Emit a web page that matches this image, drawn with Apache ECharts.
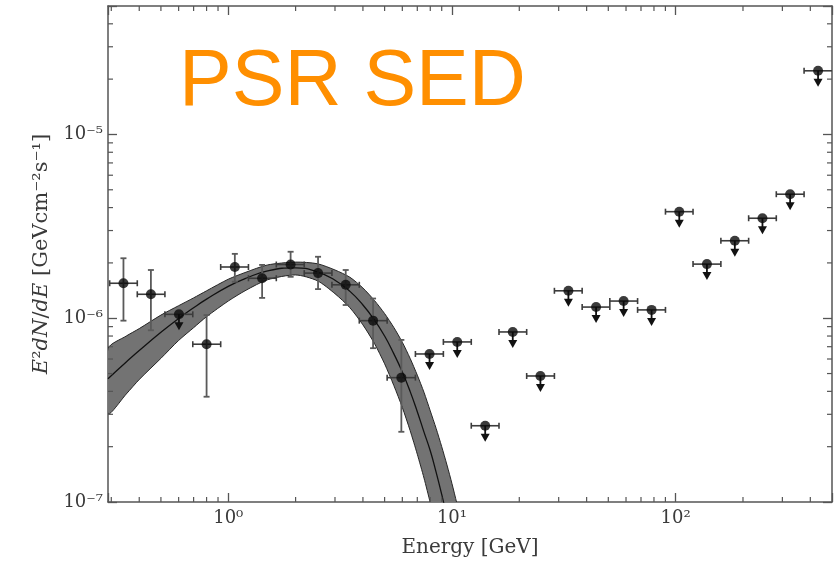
<!DOCTYPE html>
<html>
<head>
<meta charset="utf-8">
<script src="https://cdn.jsdelivr.net/npm/echarts@6/dist/echarts.min.js"></script>
<style>
html, body { margin: 0; padding: 0; background: #fff; }
#main { width: 839px; height: 568px; }
</style>
</head>
<body>
<div id="main"></div>
<script>
// detected flux points: energy (GeV), bin edges, E^2 dN/dE and its error range
var detE = [0.34, 0.451, 0.80, 1.07, 1.417, 1.90, 2.52, 3.35, 4.44, 5.94];
var detELo = [0.295, 0.392, 0.694, 0.925, 1.231, 1.640, 2.186, 2.907, 3.853, 5.132];
var detEHi = [0.392, 0.521, 0.925, 1.231, 1.640, 2.186, 2.907, 3.853, 5.132, 6.865];
var detF = [1.55e-6, 1.35e-6, 7.22e-7, 1.90e-6, 1.65e-6, 1.96e-6, 1.76e-6, 1.52e-6, 9.7e-7, 4.75e-7];
var detFLo = [9.7e-7, 8.6e-7, 3.74e-7, 1.58e-6, 1.29e-6, 1.68e-6, 1.44e-6, 1.18e-6, 6.87e-7, 2.41e-7];
var detFHi = [2.12e-6, 1.83e-6, 1.04e-6, 2.24e-6, 1.95e-6, 2.30e-6, 2.16e-6, 1.83e-6, 1.28e-6, 7.62e-7];

// upper limits
var ulE = [0.602, 7.94, 10.56, 14.08, 18.7, 24.86, 33.16, 44.09, 58.54, 78.06, 103.8, 138.0, 183.9, 244.4, 324.9, 433.2];
var ulELo = [0.521, 6.865, 9.155, 12.20, 16.23, 21.58, 28.71, 38.20, 50.79, 67.59, 90.05, 119.6, 159.3, 212.0, 281.8, 375.1];
var ulEHi = [0.694, 9.155, 12.20, 16.23, 21.58, 28.71, 38.20, 50.79, 67.59, 90.05, 119.6, 159.3, 212.0, 281.8, 375.1, 520];
var ulF = [1.05e-6, 6.39e-7, 7.43e-7, 2.60e-7, 8.42e-7, 4.85e-7, 1.41e-6, 1.15e-6, 1.24e-6, 1.11e-6, 3.80e-6, 1.97e-6, 2.64e-6, 3.50e-6, 4.73e-6, 2.22e-5];

// model band
var bandE = [0.29, 0.35, 0.4, 0.5, 0.6, 0.7, 0.8, 1.0, 1.2, 1.5, 2.0, 2.5, 3.0, 3.5, 4.0, 4.5, 5.0, 5.5, 6.0, 6.5, 7.0, 7.5, 8.0, 8.5, 9.0, 9.5, 10, 10.5, 11];
var bandMid = [4.69e-7, 5.78e-7, 6.67e-7, 8.38e-7, 9.97e-7, 1.14e-6, 1.27e-6, 1.49e-6, 1.65e-6, 1.81e-6, 1.88e-6, 1.79e-6, 1.61e-6, 1.40e-6, 1.18e-6, 9.8e-7, 8.0e-7, 6.4e-7, 5.1e-7, 4.0e-7, 3.1e-7, 2.4e-7, 1.9e-7, 1.45e-7, 1.1e-7, 8.3e-8, 6.3e-8, 4.7e-8, 3.5e-8];
var bandHi = [6.83e-7, 8.0e-7, 8.78e-7, 1.04e-6, 1.17e-6, 1.29e-6, 1.41e-6, 1.63e-6, 1.78e-6, 1.95e-6, 2.02e-6, 1.98e-6, 1.83e-6, 1.67e-6, 1.46e-6, 1.25e-6, 1.06e-6, 8.9e-7, 7.4e-7, 6.05e-7, 4.9e-7, 3.95e-7, 3.13e-7, 2.51e-7, 2.0e-7, 1.59e-7, 1.26e-7, 9.9e-8, 7.7e-8];
var bandLo = [3.02e-7, 3.87e-7, 4.64e-7, 6.05e-7, 7.57e-7, 8.88e-7, 1.02e-6, 1.24e-6, 1.42e-6, 1.62e-6, 1.72e-6, 1.60e-6, 1.36e-6, 1.14e-6, 9.2e-7, 7.3e-7, 5.65e-7, 4.3e-7, 3.27e-7, 2.45e-7, 1.82e-7, 1.35e-7, 9.9e-8, 7.4e-8, 5.4e-8, 4.0e-8, 3.0e-8, 2.2e-8, 1.6e-8];

var xMin = 0.29, xMax = 500;
var yMin = 1e-7, yMax = 5e-5;

var serif = 'DejaVu Serif';
var axisColor = '#555';
var textColor = '#3a3a3a';

var supMap = {'-': '⁻', '0': '⁰', '1': '¹', '2': '²', '3': '³', '4': '⁴', '5': '⁵', '6': '⁶', '7': '⁷', '8': '⁸', '9': '⁹'};
function powLabel(v) {
    var p = Math.log10(v);
    var r = Math.round(p);
    if (Math.abs(p - r) > 1e-6) return '';
    return '10' + String(r).split('').map(function (c) { return supMap[c]; }).join('');
}

// minor tick values 2..9 x 10^n
function minorValues(lo, hi) {
    var out = [];
    for (var d = Math.floor(Math.log10(lo)); d <= Math.ceil(Math.log10(hi)); d++) {
        for (var k = 2; k <= 9; k++) {
            var v = k * Math.pow(10, d);
            if (v > lo && v < hi) out.push(v);
        }
    }
    return out;
}
var xMinor = minorValues(xMin, xMax);
var yMinor = minorValues(yMin, yMax);

var myChart = echarts.init(document.getElementById('main'));

var detData = detE.map(function (e, i) {
    return [e, detF[i], detELo[i], detEHi[i], detFLo[i], detFHi[i]];
});
var ulData = ulE.map(function (e, i) {
    return [e, ulF[i], ulELo[i], ulEHi[i]];
});

var lineStyle = {stroke: '#3c3c3c', lineWidth: 1.6};

function hBar(api, e, f) {
    var p = api.coord([e, f]);
    var l = api.coord([api.value(2), f]);
    var r = api.coord([api.value(3), f]);
    return [
        {type: 'line', shape: {x1: l[0], y1: p[1], x2: r[0], y2: p[1]}, style: lineStyle},
        {type: 'line', shape: {x1: l[0], y1: p[1] - 3, x2: l[0], y2: p[1] + 3}, style: lineStyle},
        {type: 'line', shape: {x1: r[0], y1: p[1] - 3, x2: r[0], y2: p[1] + 3}, style: lineStyle}
    ];
}

function renderErr(params, api) {
    var e = api.value(0), f = api.value(1);
    var t = api.coord([e, api.value(5)]);
    var b = api.coord([e, api.value(4)]);
    var vs = {stroke: '#5a5a5a', lineWidth: 1.8};
    var kids = hBar(api, e, f).concat([
        {type: 'line', shape: {x1: t[0], y1: t[1], x2: b[0], y2: b[1]}, style: vs},
        {type: 'line', shape: {x1: t[0] - 3, y1: t[1], x2: t[0] + 3, y2: t[1]}, style: vs},
        {type: 'line', shape: {x1: b[0] - 3, y1: b[1], x2: b[0] + 3, y2: b[1]}, style: vs}
    ]);
    return {type: 'group', children: kids};
}

function renderUL(params, api) {
    var e = api.value(0), f = api.value(1);
    var p = api.coord([e, f]);
    var kids = hBar(api, e, f).concat([
        {type: 'line', shape: {x1: p[0], y1: p[1], x2: p[0], y2: p[1] + 10}, style: {stroke: '#111', lineWidth: 1.8}},
        {type: 'polygon', shape: {points: [[p[0] - 4.5, p[1] + 8], [p[0] + 4.5, p[1] + 8], [p[0], p[1] + 16]]}, style: {fill: '#111'}}
    ]);
    return {type: 'group', children: kids};
}

function renderBand(params, api) {
    var pts = [];
    for (var i = 0; i < bandE.length; i++) pts.push(api.coord([bandE[i], bandHi[i]]));
    for (var j = bandE.length - 1; j >= 0; j--) pts.push(api.coord([bandE[j], bandLo[j]]));
    return {
        type: 'polygon',
        shape: {points: pts, smooth: 0.25},
        style: {fill: '#737373', stroke: '#262626', lineWidth: 1}
    };
}

function renderMinor(params, api) {
    var cs = params.coordSys;
    var st = {stroke: axisColor, lineWidth: 1.2};
    var kids = [];
    xMinor.forEach(function (v) {
        var x = api.coord([v, yMin])[0];
        kids.push({type: 'line', shape: {x1: x, y1: cs.y + cs.height, x2: x, y2: cs.y + cs.height - 5}, style: st});
        kids.push({type: 'line', shape: {x1: x, y1: cs.y, x2: x, y2: cs.y + 5}, style: st});
    });
    yMinor.forEach(function (v) {
        var y = api.coord([xMin, v])[1];
        kids.push({type: 'line', shape: {x1: cs.x, y1: y, x2: cs.x + 5, y2: y}, style: st});
        kids.push({type: 'line', shape: {x1: cs.x + cs.width, y1: y, x2: cs.x + cs.width - 5, y2: y}, style: st});
    });
    return {type: 'group', children: kids};
}

function logAxis(pos, min, max, showLabel) {
    return {
        type: 'log',
        logBase: 10,
        position: pos,
        min: min,
        max: max,
        axisLine: {show: true, onZero: false, lineStyle: {color: axisColor, width: 1.5}},
        axisTick: {show: true, inside: true, length: 9, lineStyle: {color: axisColor, width: 1.3}},
        axisLabel: {
            show: showLabel,
            formatter: powLabel,
            fontFamily: serif,
            fontSize: 18,
            color: textColor,
            margin: 7
        },
        splitLine: {show: false},
        minorTick: {show: false}
    };
}

var xBottom = logAxis('bottom', xMin, xMax, true);
xBottom.name = 'Energy [GeV]';
xBottom.nameLocation = 'middle';
xBottom.nameGap = 36;
xBottom.nameTextStyle = {fontFamily: serif, fontSize: 20, color: textColor};

var yLeft = logAxis('left', yMin, yMax, true);
yLeft.axisLabel.margin = 5;
yLeft.name = '{i|E}²{i|dN}/{i|dE} [GeVcm⁻²s⁻¹]';
yLeft.nameLocation = 'middle';
yLeft.nameGap = 56;
yLeft.nameTextStyle = {
    fontFamily: serif, fontSize: 21, color: textColor,
    rich: {i: {fontFamily: serif, fontSize: 21, fontStyle: 'italic', color: textColor}}
};

var option = {
    animation: false,
    backgroundColor: '#fff',
    grid: {left: 108, right: 7, top: 6, bottom: 66, containLabel: false},
    xAxis: [xBottom, logAxis('top', xMin, xMax, false)],
    yAxis: [yLeft, logAxis('right', yMin, yMax, false)],
    graphic: [{
        type: 'text',
        x: 179,
        y: 83,
        z: 100,
        style: {
            text: 'PSR SED',
            font: '79px "Liberation Sans"',
            fill: '#FF8F00',
            textAlign: 'left',
            textVerticalAlign: 'middle'
        }
    }],
    series: [{
        type: 'custom',
        renderItem: renderBand,
        clip: true,
        data: [[1, 1e-6]],
        encode: {x: 0, y: 1},
        z: 1
    }, {
        type: 'line',
        data: bandE.map(function (e, i) { return [e, bandMid[i]]; }),
        showSymbol: false,
        smooth: true,
        lineStyle: {color: '#111', width: 1.3},
        z: 2
    }, {
        type: 'custom',
        renderItem: renderErr,
        clip: true,
        data: detData,
        encode: {x: 0, y: 1},
        z: 3
    }, {
        type: 'custom',
        renderItem: renderUL,
        clip: true,
        data: ulData,
        encode: {x: 0, y: 1},
        z: 3
    }, {
        type: 'scatter',
        data: detE.map(function (e, i) { return [e, detF[i]]; }).concat(ulE.map(function (e, i) { return [e, ulF[i]]; })),
        symbol: 'circle',
        symbolSize: 10,
        itemStyle: {color: '#0a0a0a'},
        z: 4
    }, {
        type: 'custom',
        renderItem: renderMinor,
        data: [[1, 1e-6]],
        encode: {x: 0, y: 1},
        z: 5
    }]
};

myChart.setOption(option);
</script>
</body>
</html>
